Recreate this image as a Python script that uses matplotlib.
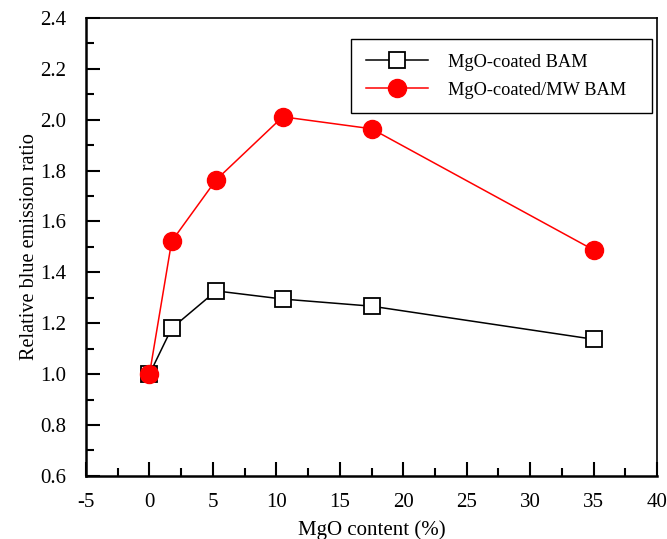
import matplotlib
matplotlib.use('Agg')
import matplotlib.pyplot as plt
from matplotlib.ticker import MultipleLocator, FormatStrFormatter

plt.rcParams['font.family'] = ['Liberation Serif', 'DejaVu Serif']
plt.rcParams['axes.unicode_minus'] = False

# MgO content (%)
mgo = [0, 1.75, 5.25, 10.5, 17.5, 35]
coated = [1.0, 1.18, 1.327, 1.295, 1.267, 1.137]
coated_mw = [1.0, 1.522, 1.763, 2.011, 1.964, 1.488]

fig = plt.figure(figsize=(6.67, 5.39), dpi=100)
ax = fig.add_axes([0.129, 0.117, 0.856, 0.850])

ax.plot(mgo, coated, color='black', lw=1.1, marker='s', ms=11.5,
        mfc='white', mec='black', mew=1.3, label='MgO-coated BAM', zorder=2)
ax.plot(mgo, coated_mw, color='red', lw=1.1, marker='o', ms=13,
        mfc='red', mec='red', label='MgO-coated/MW BAM', zorder=3)

ax.set_xlim(-5, 40)
ax.set_ylim(0.6, 2.4)
ax.xaxis.set_major_locator(MultipleLocator(5))
ax.xaxis.set_minor_locator(MultipleLocator(2.5))
ax.yaxis.set_major_locator(MultipleLocator(0.2))
ax.yaxis.set_minor_locator(MultipleLocator(0.1))
ax.yaxis.set_major_formatter(FormatStrFormatter('%.1f'))
ax.tick_params(which='both', direction='in', top=False, right=False, width=1.5, labelsize=15)
ax.tick_params(which='major', length=10)
ax.tick_params(which='minor', length=6)
ax.tick_params(axis='x', which='major', pad=12)
ax.tick_params(axis='y', which='major', pad=14)
for s in ['left', 'bottom']:
    ax.spines[s].set_linewidth(1.8)
for s in ['top', 'right']:
    ax.spines[s].set_linewidth(1.2)

ax.set_xlabel('MgO content (%)', fontsize=15, labelpad=6)
ax.set_ylabel('Relative blue emission ratio', fontsize=14.6, labelpad=1)

leg = ax.legend(loc='upper left', bbox_to_anchor=(0.464, 0.0, 0.527, 0.954), mode='expand',
                borderaxespad=0, fontsize=13.2, fancybox=False, edgecolor='black',
                framealpha=1, handlelength=3.4, borderpad=0.8, labelspacing=0.6,
                handletextpad=1.1)
leg.get_frame().set_linewidth(1.0)

fig.savefig('out.png', dpi=100)
